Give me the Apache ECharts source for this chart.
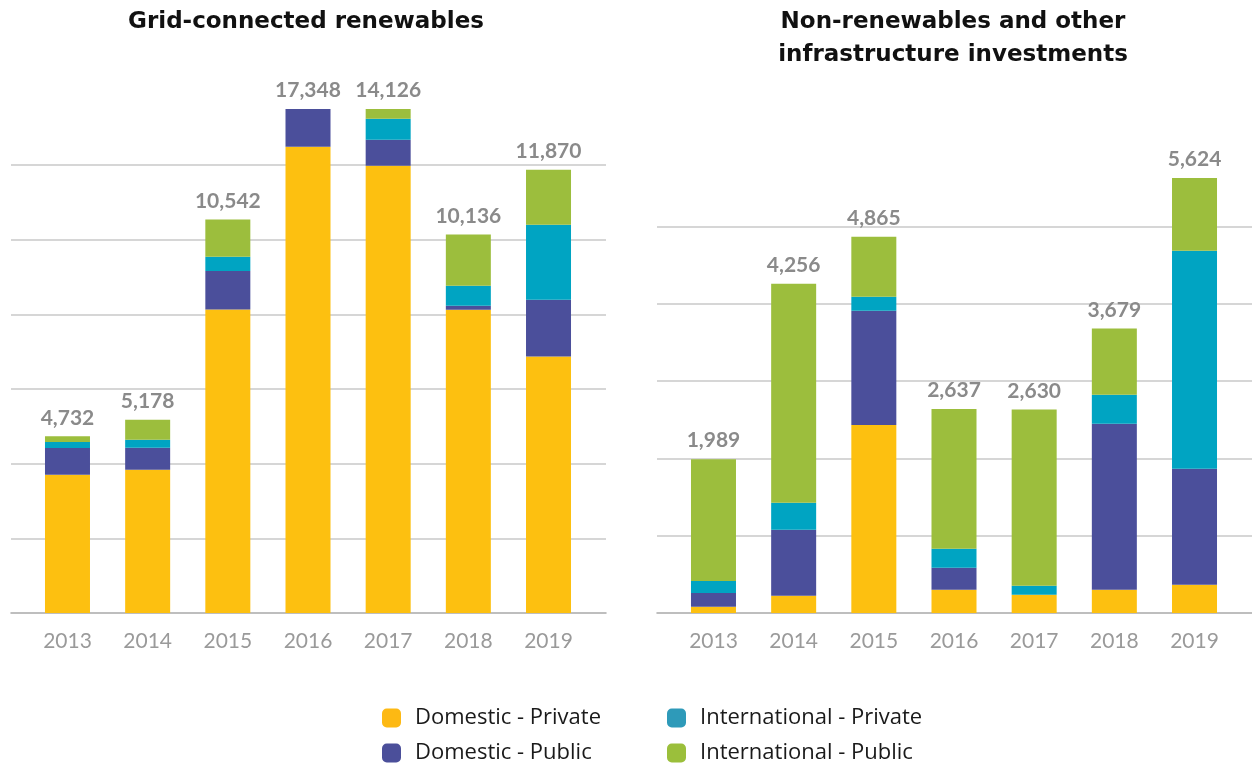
<!DOCTYPE html>
<html>
  <head>
    <meta charset="utf-8" />
    <title>Investments</title>
    <script src="https://cdn.jsdelivr.net/npm/echarts/dist/echarts.min.js"></script>
    <style>
      html, body { margin: 0; padding: 0; background: #fff; }
    </style>
  </head>
  <body>
    <div id="main" style="width: 1252px; height: 766px;"></div>
    <script type="text/javascript">
      var myChart = echarts.init(document.getElementById('main'));

      var years = ['2013', '2014', '2015', '2016', '2017', '2018', '2019'];

      // Grid-connected renewables
      var renDomPriv = [3700, 3838, 8130, 12490, 11981, 8124, 6873];
      var renDomPub = [720, 589, 1030, 4858, 696, 107, 1518];
      var renIntPriv = [160, 214, 380, 0, 562, 536, 2009];
      var renIntPub = [152, 537, 1002, 0, 887, 1369, 1470];
      var renTotals = [4732, 5178, 10542, 17348, 14126, 10136, 11870];

      // Non-renewables and other infrastructure
      var nonDomPriv = [80, 224, 2430, 301, 237, 301, 366];
      var nonDomPub = [180, 853, 1480, 284, 0, 2146, 1500];
      var nonIntPriv = [155, 349, 181, 246, 116, 375, 2819];
      var nonIntPub = [1574, 2830, 774, 1806, 2277, 857, 939];
      var nonTotals = [1989, 4256, 4865, 2637, 2630, 3679, 5624];

      var seriesNames = ['Domestic - Private', 'Domestic - Public', 'International - Private', 'International - Public'];
      var barColors = ['#FDC010', '#4B4F9B', '#00A4C2', '#9CBE3D'];
      var legendColors = ['#FDB913', '#4B4F9A', '#2E9AB9', '#9BBF3B'];

      var font = 'Lato';
      var renMax = 13500;
      var nonMax = 6000;

      function fmt(v) {
        return v.toLocaleString('en-US');
      }

      // wide grid carries gridlines + axis line, narrow grid carries the bars
      var grids = [
        { left: 11, width: 595, top: 109, bottom: 153 },
        { left: 27.4, width: 561.2, top: 109, bottom: 153 },
        { left: 657, width: 595, top: 149, bottom: 153 },
        { left: 673.4, width: 561.2, top: 149, bottom: 153 }
      ];
      grids.forEach(function (g) { g.outerBoundsMode = 'none'; });

      function wideX(gi) {
        return {
          type: 'category', gridIndex: gi, data: years,
          axisLine: { show: true, lineStyle: { color: '#a9a9a9', width: 1.5 } },
          axisTick: { show: false }, axisLabel: { show: false }
        };
      }
      function barX(gi) {
        return {
          type: 'category', gridIndex: gi, data: years,
          axisLine: { show: false }, axisTick: { show: false },
          axisLabel: { color: '#9a9a9a', fontSize: 21, fontFamily: font, margin: 18 }
        };
      }
      function wideY(gi, max, interval) {
        return {
          type: 'value', gridIndex: gi, min: 0, max: max, interval: interval,
          axisLine: { show: false }, axisTick: { show: false }, axisLabel: { show: false },
          splitLine: { show: true, showMinLine: false, showMaxLine: false, lineStyle: { color: '#c8c8c8', width: 1.5 } }
        };
      }
      function barY(gi, max, interval) {
        return {
          type: 'value', gridIndex: gi, min: 0, max: max, interval: interval,
          axisLine: { show: false }, axisTick: { show: false }, axisLabel: { show: false },
          splitLine: { show: false }
        };
      }

      function stackSeries(axisIdx, stackName, datas) {
        return datas.map(function (d, i) {
          return {
            name: seriesNames[i], type: 'bar', stack: stackName,
            xAxisIndex: axisIdx, yAxisIndex: axisIdx,
            data: d, barWidth: 45, barGap: '-100%',
            itemStyle: { color: barColors[i] },
            emphasis: { disabled: true }
          };
        });
      }

      function totalSeries(axisIdx, totals, max) {
        return {
          name: 'Total', type: 'bar',
          xAxisIndex: axisIdx, yAxisIndex: axisIdx,
          data: totals.map(function (v) { return Math.min(v, max); }),
          barWidth: 45, barGap: '-100%', silent: true, z: 5,
          itemStyle: { color: 'rgba(0,0,0,0)' },
          label: {
            show: true, position: 'top', distance: 8,
            color: '#8a8a8a', fontSize: 21, fontWeight: 'bold', fontFamily: font,
            formatter: function (p) { return fmt(totals[p.dataIndex]); }
          }
        };
      }

      var series = []
        .concat(stackSeries(1, 'ren', [renDomPriv, renDomPub, renIntPriv, renIntPub]))
        .concat([totalSeries(1, renTotals, renMax)])
        .concat(stackSeries(3, 'non', [nonDomPriv, nonDomPub, nonIntPriv, nonIntPub]))
        .concat([totalSeries(3, nonTotals, nonMax)]);

      function legendItem(i) {
        return { name: seriesNames[i], itemStyle: { color: legendColors[i] } };
      }
      var legendBase = {
        orient: 'vertical', top: 707, itemWidth: 19, itemHeight: 19, itemGap: 13,
        icon: 'roundRect', selectedMode: false, padding: 0,
        textStyle: { color: '#1a1a1a', fontSize: 22, fontFamily: 'Open Sans', padding: [0, 0, 0, 9] }
      };

      var titleStyle = { fontSize: 23, fontWeight: 'bold', color: '#111', fontFamily: 'DejaVu Sans', lineHeight: 33 };

      var option = {
        animation: false,
        title: [
          { text: 'Grid-connected renewables', left: 306, top: 6, textAlign: 'center', padding: 0, textStyle: titleStyle },
          { text: 'Non-renewables and other\ninfrastructure investments', left: 953, top: 6, textAlign: 'center', padding: 0, textStyle: titleStyle }
        ],
        legend: [
          Object.assign({}, legendBase, { left: 382, data: [legendItem(0), legendItem(1)] }),
          Object.assign({}, legendBase, { left: 667, data: [legendItem(2), legendItem(3)] })
        ],
        grid: grids,
        xAxis: [wideX(0), barX(1), wideX(2), barX(3)],
        yAxis: [wideY(0, renMax, 2000), barY(1, renMax, 2000), wideY(2, nonMax, 1000), barY(3, nonMax, 1000)],
        series: series
      };

      myChart.setOption(option);
    </script>
  </body>
</html>
